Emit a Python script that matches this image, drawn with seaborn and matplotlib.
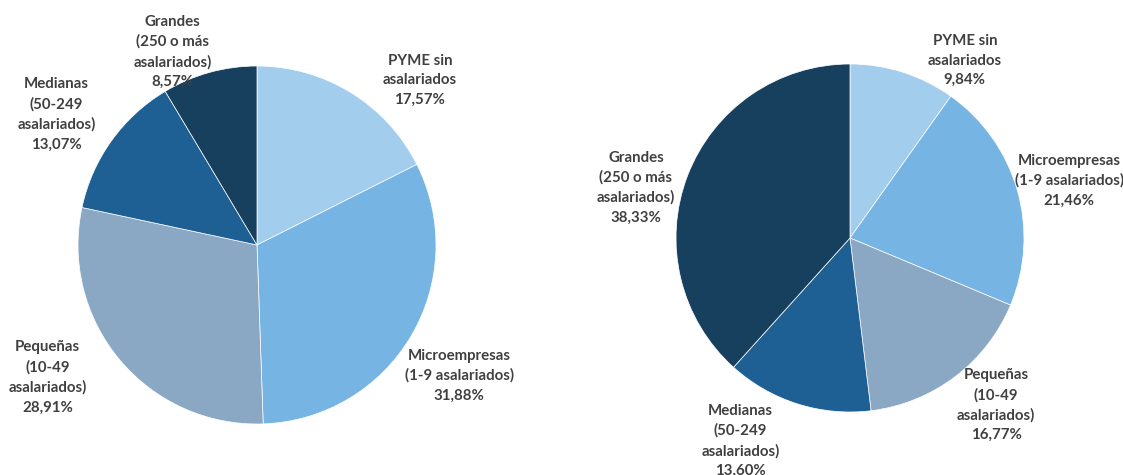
import numpy as np
import matplotlib
matplotlib.use("Agg")
import matplotlib.pyplot as plt
import seaborn as sns

categories = [
    "PYME sin\nasalariados",
    "Microempresas\n(1-9 asalariados)",
    "Pequeñas\n(10-49\nasalariados)",
    "Medianas\n(50-249\nasalariados)",
    "Grandes\n(250 o más\nasalariados)",
]
left_values = [17.57, 31.88, 28.91, 13.07, 8.57]
right_values = [9.84, 21.46, 16.77, 13.60, 38.33]
colors = ["#A3CDED", "#76B5E3", "#8AA8C4", "#1F6094", "#17405F"]

# posiciones de las etiquetas (en radios desde el centro)
left_label_pos = [(0.91, 0.92), (1.13, -0.73), (-1.17, -0.74), (-1.12, 0.73), (-0.47, 1.08)]
right_label_pos = [(0.66, 1.02), (1.26, 0.33), (0.84, -0.96), (-0.63, -1.165), (-1.23, 0.29)]

sns.set_theme(style="white")
plt.rcParams["font.family"] = ["Lato", "DejaVu Sans"]

W, H = 1123, 475
fig = plt.figure(figsize=(W / 100, H / 100), dpi=100)


def draw_pie(cx, cy, r, values, label_pos):
    lim = 1.4
    size = 2 * lim * r
    ax = fig.add_axes([(cx - lim * r) / W, (H - cy - lim * r) / H, size / W, size / H])
    ax.pie(values, colors=colors, startangle=90, counterclock=False,
           wedgeprops=dict(linewidth=0.5, edgecolor="white"))
    for cat, val, (lx, ly) in zip(categories, values, label_pos):
        txt = f"{cat}\n{val:.2f}%".replace(".", ",")
        ax.text(lx, ly, txt, ha="center", va="center", fontsize=10.8,
                fontweight="bold", color="#404040", linespacing=1.5, clip_on=False)
    ax.set_xlim(-lim, lim)
    ax.set_ylim(-lim, lim)
    ax.set_aspect("equal")
    ax.axis("off")


draw_pie(257, 245, 179, left_values, left_label_pos)
draw_pie(850, 238, 174, right_values, right_label_pos)

fig.savefig("out.png", dpi=100)
plt.close()
